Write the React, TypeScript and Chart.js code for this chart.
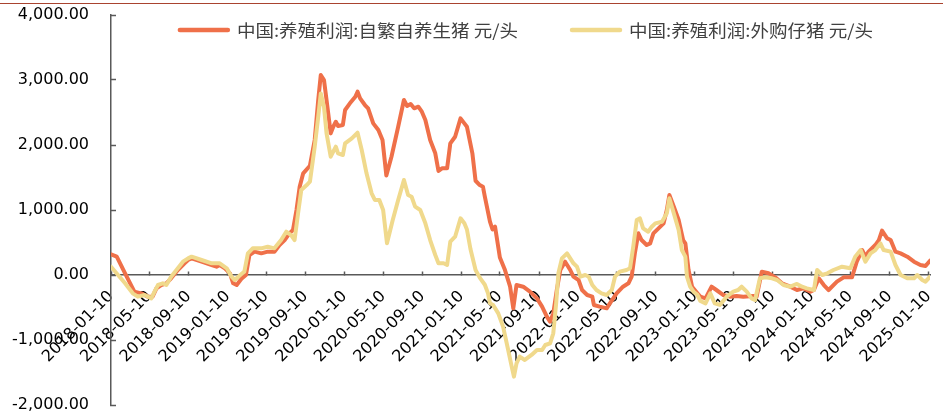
import React, { useEffect, useRef } from 'react';
import { Chart, registerables } from 'chart.js';

Chart.register(...registerables);

const seriesNames = ['中国:养殖利润:自繁自养生猪 元/头', '中国:养殖利润:外购仔猪 元/头'];
const seriesColors = ['#EF7049', '#F0D98C'];

const datesA = [
  '2018-01-10', '2018-01-28', '2018-02-23', '2018-03-24', '2018-04-15', '2018-05-05', '2018-05-20', '2018-06-01',
  '2018-06-16', '2018-07-02', '2018-07-17', '2018-08-07', '2018-08-28', '2018-09-08', '2018-09-19', '2018-10-20',
  '2018-11-21', '2018-12-06', '2018-12-16',
  '2019-01-01', '2019-01-17', '2019-01-27', '2019-02-07', '2019-02-23', '2019-03-08', '2019-03-19', '2019-04-04',
  '2019-04-25', '2019-05-15', '2019-06-05', '2019-06-21', '2019-07-07', '2019-07-22', '2019-08-02', '2019-08-13',
  '2019-08-23', '2019-09-03', '2019-09-24', '2019-10-09', '2019-10-20', '2019-10-28', '2019-11-07', '2019-11-15',
  '2019-11-28', '2019-12-06', '2019-12-14', '2019-12-21',
  '2020-01-05', '2020-01-12', '2020-01-27', '2020-02-13', '2020-02-20', '2020-02-28', '2020-03-14', '2020-03-24',
  '2020-04-09', '2020-04-25', '2020-05-08', '2020-05-20', '2020-06-05', '2020-06-26', '2020-07-14', '2020-07-24',
  '2020-08-04', '2020-08-15', '2020-08-28', '2020-09-08', '2020-09-19', '2020-10-04', '2020-10-20', '2020-10-30',
  '2020-11-10', '2020-11-26', '2020-12-06', '2020-12-21',
  '2021-01-07', '2021-01-19', '2021-01-27', '2021-02-13', '2021-02-23', '2021-03-08', '2021-03-18', '2021-03-24',
  '2021-04-09', '2021-04-17', '2021-04-25', '2021-05-10', '2021-05-25', '2021-06-11', '2021-06-21', '2021-07-01',
  '2021-07-22', '2021-08-12', '2021-09-03', '2021-09-19', '2021-10-04', '2021-10-14', '2021-10-24', '2021-11-04',
  '2021-11-15', '2021-11-30', '2021-12-16', '2021-12-26',
  '2022-01-11', '2022-01-22', '2022-02-07', '2022-02-23', '2022-02-28', '2022-03-18', '2022-04-09', '2022-04-19',
  '2022-05-10', '2022-05-30', '2022-06-16', '2022-06-26', '2022-07-06', '2022-07-17', '2022-07-27', '2022-08-12',
  '2022-08-23', '2022-09-02', '2022-09-18', '2022-10-04', '2022-10-14', '2022-10-22', '2022-11-05', '2022-11-20',
  '2022-12-04', '2022-12-11', '2022-12-21',
  '2023-01-01', '2023-01-22', '2023-01-27', '2023-02-12', '2023-03-03', '2023-03-18', '2023-04-09', '2023-04-29',
  '2023-05-20', '2023-06-10', '2023-07-11', '2023-07-22', '2023-08-07', '2023-08-28', '2023-09-18', '2023-10-09',
  '2023-11-04', '2023-11-25', '2023-12-15',
  '2024-01-06', '2024-01-17', '2024-02-01', '2024-02-17', '2024-03-03', '2024-03-29', '2024-04-19', '2024-05-15',
  '2024-05-30', '2024-06-16', '2024-06-26', '2024-07-06', '2024-07-27', '2024-08-07', '2024-08-17', '2024-09-02',
  '2024-09-13', '2024-09-28', '2024-10-14', '2024-11-04', '2024-11-25', '2024-12-15', '2024-12-31',
  '2025-01-14',
];

const valuesA = [
  318, 282, 26, -256, -282, -333, -333, -205,
  -154, -128, -51, 77, 180, 231, 256, 205,
  154, 128, 154,
  103, 26, -128, -154, -51, 0, 308, 359,
  333, 359, 359, 461, 538, 641, 692, 1000,
  1358, 1564, 1681, 2077, 2692, 3076, 3000, 2692,
  2179, 2281, 2358, 2292,
  2307, 2538, 2641, 2742, 2820, 2717, 2615, 2564,
  2333, 2230, 2077, 1530, 1820, 2281, 2692, 2600,
  2630, 2564, 2589, 2512, 2384, 2077, 1872, 1600,
  1641, 1641, 2025, 2127,
  2410, 2333, 2281, 1872, 1450, 1384, 1358, 1204,
  820, 700, 743, 270, 90, -180, -513, -154,
  -180, -256, -359, -487, -641, -718, -590, -231,
  77, 205, 77, -26,
  -77, -231, -308, -333, -461, -487, -513, -436,
  -282, -180, -128, -26, 333, 641, 538, 461,
  487, 641, 718, 795, 1000, 1230, 1051, 846,
  538, 487, 77,
  -180, -308, -333, -359, -180, -231, -308, -333,
  -323, -333, -323, -333, 51, 26, -36, -128,
  -180, -231, -205,
  -256, -231, -51, -154, -231, -103, -36, -36,
  205, 384, 282, 359, 461, 538, 682, 564,
  538, 359, 333, 282, 205, 154, 138,
  220,
];

const datesB = [
  '2018-01-10', '2018-02-01', '2018-02-23', '2018-03-19', '2018-04-04', '2018-04-25', '2018-05-16', '2018-05-26',
  '2018-06-06', '2018-06-21', '2018-07-02', '2018-07-17', '2018-08-07', '2018-08-23', '2018-09-08', '2018-09-19',
  '2018-10-20', '2018-11-21', '2018-12-16',
  '2019-01-07', '2019-01-22', '2019-02-01', '2019-02-18', '2019-03-03', '2019-03-14', '2019-03-29', '2019-04-25',
  '2019-05-15', '2019-06-05', '2019-06-26', '2019-07-12', '2019-07-27', '2019-08-07', '2019-08-18', '2019-08-28',
  '2019-09-14', '2019-09-24', '2019-10-09', '2019-10-20', '2019-10-28', '2019-11-07', '2019-11-15', '2019-11-28',
  '2019-12-06', '2019-12-14', '2019-12-21',
  '2020-01-05', '2020-01-12', '2020-02-02', '2020-02-20', '2020-03-04', '2020-03-19', '2020-04-04', '2020-04-14',
  '2020-04-28', '2020-05-10', '2020-05-22', '2020-06-09', '2020-06-26', '2020-07-14', '2020-07-27', '2020-08-07',
  '2020-08-18', '2020-09-03', '2020-09-19', '2020-10-04', '2020-10-20', '2020-10-30', '2020-11-15', '2020-11-26',
  '2020-12-06', '2020-12-21',
  '2021-01-07', '2021-01-19', '2021-01-27', '2021-02-07', '2021-02-23', '2021-03-08', '2021-03-24', '2021-04-03',
  '2021-04-09', '2021-04-19', '2021-05-05', '2021-05-20', '2021-06-05', '2021-06-16', '2021-06-23', '2021-07-01',
  '2021-07-11', '2021-07-27', '2021-08-17', '2021-09-03', '2021-09-19', '2021-09-29', '2021-10-14', '2021-10-24',
  '2021-11-02', '2021-11-09', '2021-11-20', '2021-12-06', '2021-12-16', '2021-12-26',
  '2022-01-06', '2022-01-17', '2022-02-01', '2022-02-12', '2022-02-23', '2022-03-08', '2022-03-24', '2022-04-09',
  '2022-04-25', '2022-05-05', '2022-05-20', '2022-06-10', '2022-06-21', '2022-07-01', '2022-07-12', '2022-07-22',
  '2022-08-01', '2022-08-17', '2022-08-28', '2022-09-08', '2022-09-29', '2022-10-14', '2022-10-22', '2022-11-05',
  '2022-11-20', '2022-11-30', '2022-12-11', '2022-12-16', '2022-12-26',
  '2023-01-06', '2023-01-17', '2023-01-27', '2023-02-12', '2023-02-27', '2023-03-13', '2023-03-29', '2023-04-19',
  '2023-05-10', '2023-05-25', '2023-06-05', '2023-06-21', '2023-07-06', '2023-07-17', '2023-08-01', '2023-08-18',
  '2023-09-08', '2023-09-24', '2023-10-14', '2023-11-04', '2023-11-25', '2023-12-11', '2023-12-26',
  '2024-01-17', '2024-01-27', '2024-02-12', '2024-02-28', '2024-03-18', '2024-04-14', '2024-05-10', '2024-05-25',
  '2024-06-11', '2024-06-26', '2024-07-12', '2024-07-27', '2024-08-12', '2024-08-22', '2024-09-13', '2024-09-28',
  '2024-10-14', '2024-11-04', '2024-11-25', '2024-12-05', '2024-12-21', '2024-12-31',
  '2025-01-14',
];

const valuesB = [
  128, 0, -128, -282, -333, -308, -359, -256,
  -154, -128, -154, -26, 103, 205, 256, 282,
  231, 180, 180,
  103, -26, -77, 0, 51, 333, 410, 410,
  435, 410, 538, 666, 615, 538, 949, 1307,
  1384, 1435, 1974, 2435, 2794, 2589, 2179, 1820,
  1897, 1974, 1872,
  1846, 2025, 2102, 2189, 1923, 1564, 1256, 1154,
  1154, 1000, 487, 846, 1154, 1461, 1230, 1204,
  1051, 1000, 795, 538, 308, 180, 180, 154,
  512, 589,
  872, 795, 700, 400, 77, -40, -150, -282,
  -436, -461, -590, -795, -1154, -1410, -1564, -1358,
  -1256, -1307, -1230, -1154, -1154, -1077, -1051, -897,
  -436, 26, 256, 333, 256, 180,
  128, -26, 0, -26, -154, -231, -282, -308,
  -231, -26, 51, 77, 103, 435, 846, 872,
  718, 666, 743, 795, 820, 949, 1180, 949,
  692, 384, 282, -26, -180,
  -260, -300, -400, -436, -282, -436, -461, -333,
  -256, -231, -180, -256, -359, -385, -51, -36,
  -51, -77, -154, -180, -138, -180, -205,
  -231, 77, 0, 26, 77, 128, 103, 282,
  384, 205, 333, 384, 487, 384, 359, 154,
  0, -51, -51, 0, -77, -103,
  -26,
];

const tickLabels = [
  '2018-01-10', '2018-05-10', '2018-09-10', '2019-01-10', '2019-05-10', '2019-09-10',
  '2020-01-10', '2020-05-10', '2020-09-10', '2021-01-10', '2021-05-10', '2021-09-10',
  '2022-01-10', '2022-05-10', '2022-09-10', '2023-01-10', '2023-05-10', '2023-09-10',
  '2024-01-10', '2024-05-10', '2024-09-10', '2025-01-10',
];

const yMin = -2000;
const yMax = 4000;
const yStep = 1000;
const xStart = '2018-01-10';
const xEnd = '2025-01-14';

const ts = (s: string) => {
  const [y, m, d] = s.split('-').map(Number);
  return Date.UTC(y, m - 1, d);
};

const toPoints = (dates: string[], values: number[]) =>
  dates.map((d, i) => ({ x: ts(d), y: values[i] }));

const tickFont = { family: '"DejaVu Sans", sans-serif', size: 16 };

const legendPlugin = {
  id: 'insideLegend',
  afterDraw(chart: any) {
    const ctx = chart.ctx as CanvasRenderingContext2D;
    const ca = chart.chartArea;
    const sx = 1.09;
    const lineLen = 52;
    const gapLT = 7;
    const gapItems = 52;
    ctx.save();
    ctx.font = '17px "Noto Sans CJK SC", sans-serif';
    const items = chart.data.datasets.map((ds: any) => ({
      text: ds.label as string,
      color: ds.borderColor as string,
      w: ctx.measureText(ds.label).width * sx,
    }));
    const total =
      items.reduce((s: number, it: any) => s + lineLen + gapLT + it.w, 0) + gapItems * (items.length - 1);
    let x = (ca.left + ca.right) / 2 + 5 - total / 2;
    const y = ca.top + 15;
    for (const it of items) {
      ctx.strokeStyle = it.color;
      ctx.lineWidth = 4.5;
      ctx.lineCap = 'round';
      ctx.beginPath();
      ctx.moveTo(x + 2, y);
      ctx.lineTo(x + lineLen - 2, y);
      ctx.stroke();
      x += lineLen + gapLT;
      ctx.save();
      ctx.translate(x, y);
      ctx.scale(sx, 1);
      ctx.fillStyle = '#404040';
      ctx.textBaseline = 'middle';
      ctx.textAlign = 'left';
      ctx.fillText(it.text, 0, 1);
      ctx.restore();
      x += it.w + gapItems;
    }
    ctx.restore();
  },
};

export default function App() {
  const canvasRef = useRef<HTMLCanvasElement | null>(null);

  useEffect(() => {
    if (!canvasRef.current) return;
    const chart = new Chart(canvasRef.current, {
      type: 'line',
      data: {
        datasets: [
          {
            label: seriesNames[0],
            data: toPoints(datesA, valuesA),
            borderColor: seriesColors[0],
            backgroundColor: seriesColors[0],
            borderWidth: 4,
            pointRadius: 0,
            tension: 0,
            borderJoinStyle: 'round',
            borderCapStyle: 'round',
            order: 2,
          },
          {
            label: seriesNames[1],
            data: toPoints(datesB, valuesB),
            borderColor: seriesColors[1],
            backgroundColor: seriesColors[1],
            borderWidth: 4,
            pointRadius: 0,
            tension: 0,
            borderJoinStyle: 'round',
            borderCapStyle: 'round',
            order: 1,
          },
        ],
      },
      options: {
        responsive: false,
        animation: false,
        layout: { padding: { left: 0, right: 13, top: 15, bottom: 11 } },
        plugins: {
          legend: { display: false },
          tooltip: { enabled: false },
          title: { display: false },
        },
        scales: {
          x: {
            type: 'linear',
            position: { y: 0 },
            min: ts(xStart),
            max: ts(xEnd),
            afterBuildTicks: (scale: any) => {
              scale.ticks = tickLabels.map((l) => ({ value: ts(l) }));
            },
            afterFit: (scale: any) => {
              scale.height = 0;
              scale.paddingLeft = 0;
              scale.paddingRight = 0;
              scale.paddingTop = 0;
              scale.paddingBottom = 0;
            },
            grid: {
              display: true,
              drawOnChartArea: false,
              drawTicks: true,
              tickLength: -4,
              tickColor: '#595959',
              tickWidth: 1.5,
            },
            border: { display: true, color: '#595959', width: 1.5 },
            ticks: {
              autoSkip: false,
              minRotation: 45,
              maxRotation: 45,
              padding: 16,
              color: '#000000',
              font: tickFont,
              callback: (_v: any, i: number) => tickLabels[i],
            },
          },
          y: {
            type: 'linear',
            position: 'left',
            min: yMin,
            max: yMax,
            afterFit: (scale: any) => {
              scale.width = 111;
              scale.paddingTop = 0;
              scale.paddingBottom = 0;
              scale.paddingLeft = 0;
              scale.paddingRight = 0;
            },
            grid: {
              display: true,
              drawOnChartArea: false,
              drawTicks: true,
              tickLength: -5,
              tickColor: '#595959',
              tickWidth: 1.5,
            },
            border: { display: true, color: '#595959', width: 1.5 },
            ticks: {
              stepSize: yStep,
              padding: 27,
              color: '#000000',
              font: tickFont,
              callback: (v: any) =>
                Number(v).toLocaleString('en-US', { minimumFractionDigits: 2, maximumFractionDigits: 2 }),
            },
          },
        },
      },
      plugins: [legendPlugin],
    } as any);
    return () => chart.destroy();
  }, []);

  return (
    <div style={{ position: 'fixed', left: 0, top: 0, width: 943, height: 416, background: '#ffffff' }}>
      <div style={{ position: 'absolute', left: 0, top: 3, width: 943, height: 1, background: '#A9432F' }} />
      <canvas ref={canvasRef} width={943} height={416} style={{ display: 'block', width: 943, height: 416 }} />
    </div>
  );
}
